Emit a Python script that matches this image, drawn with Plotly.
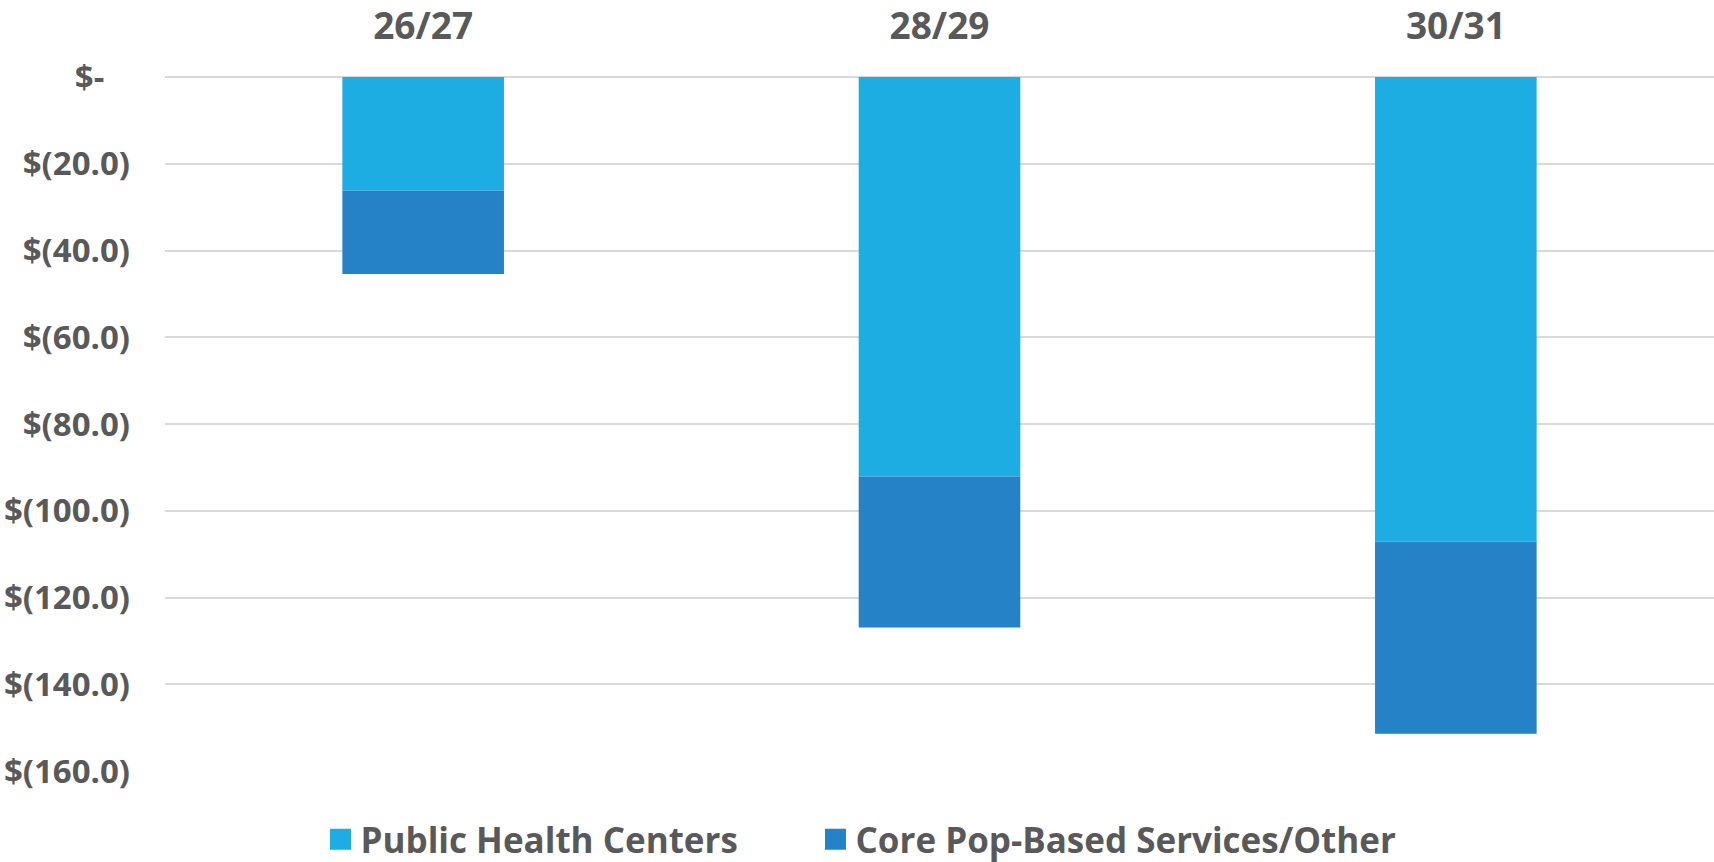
import plotly.graph_objects as go

categories = ["26/27", "28/29", "30/31"]
series_names = ["Public Health Centers", "Core Pop-Based Services/Other"]
public_health_centers = [-26.2, -92.1, -107.1]
core_pop_based = [-19.2, -34.8, -44.3]
colors = ["#1EADE3", "#2682C6"]
legend_widths = [450, 580]

tick_vals = [0, -20, -40, -60, -80, -100, -120, -140, -160]
tick_text = ["$-\u00a0\u00a0\u00a0", "$(20.0)", "$(40.0)", "$(60.0)", "$(80.0)",
             "$(100.0)", "$(120.0)", "$(140.0)", "$(160.0)"]

FONT = "Open Sans"
TXT = "#595959"

fig = go.Figure()
for name, vals, col, lw in zip(series_names, [public_health_centers, core_pop_based], colors, legend_widths):
    fig.add_trace(go.Bar(x=categories, y=vals, name=name, marker=dict(color=col, line=dict(width=0)),
                         showlegend=False))
    # legend proxy with a larger square swatch
    fig.add_trace(go.Scatter(x=[None], y=[None], mode="markers", name=name, legendwidth=lw,
                             marker=dict(symbol="square", size=16, color=col,
                                         line=dict(color=col, width=5))))

fig.update_layout(
    width=1714, height=862,
    barmode="relative",
    bargap=0.687,
    plot_bgcolor="white", paper_bgcolor="white",
    margin=dict(l=165, r=0, t=77, b=91, autoexpand=False),
    font=dict(family=FONT, size=33, color=TXT, weight=700),
    legend=dict(orientation="h", xref="container", yref="container",
                x=0.187, xanchor="left", y=0.026, yanchor="middle",
                font=dict(family=FONT, size=35, color=TXT, weight=700),
                itemsizing="trace", bgcolor="rgba(0,0,0,0)"),
    xaxis=dict(side="top", showgrid=False, showline=False, zeroline=False, ticks="",
               automargin=False,
               tickfont=dict(family=FONT, size=37, color=TXT, weight=700),
               ticklabelstandoff=30),
    yaxis=dict(range=[-160, 0], tickvals=tick_vals, ticktext=tick_text,
               showgrid=True, gridcolor="#D9D9D9", gridwidth=1.5,
               zeroline=True, zerolinecolor="#D9D9D9", zerolinewidth=1.5,
               showline=False, ticks="", automargin=False,
               tickfont=dict(family=FONT, size=33, color=TXT, weight=700),
               ticklabelstandoff=34),
)

fig.write_html("out.html", config={"displayModeBar": False},
               post_script="document.body.style.margin='0';")
